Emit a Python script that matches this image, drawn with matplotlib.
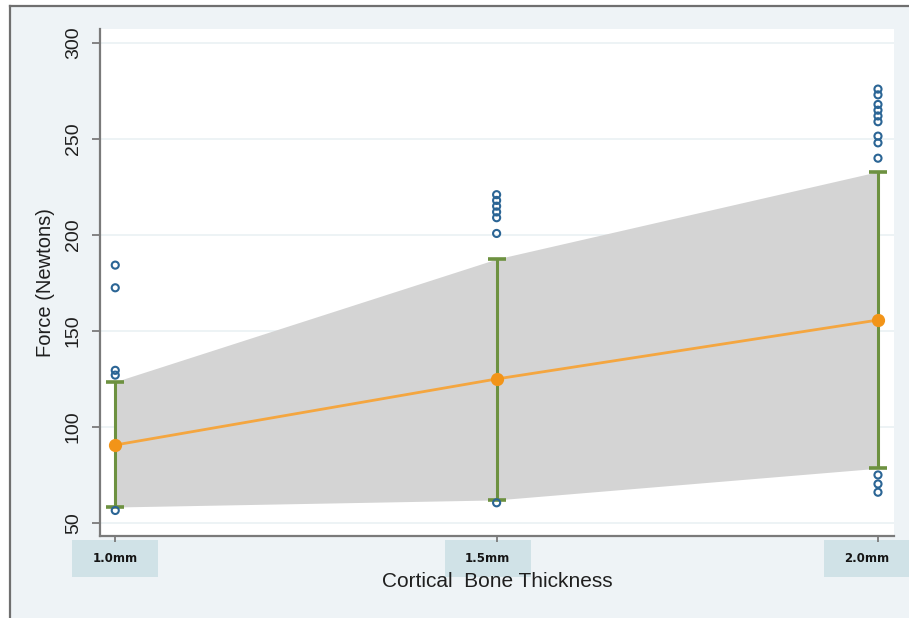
import matplotlib
matplotlib.use("Agg")
import matplotlib.pyplot as plt
from matplotlib.patches import Rectangle
from matplotlib.lines import Line2D
from matplotlib.transforms import blended_transform_factory, ScaledTranslation

# Cortical bone thickness groups (mm) and their labels
thickness = [1.0, 1.5, 2.0]
tick_labels = ["1.0mm", "1.5mm", "2.0mm"]

# Mean force and range limits (Newtons)
mean_force = [90.6, 125.0, 155.7]
upper_limit = [123.6, 187.5, 233.0]
lower_limit = [58.3, 62.0, 78.5]

# Outlying observations per group (Newtons)
outliers_10 = [184.3, 172.5, 129.5, 127.0, 56.5]
outliers_15 = [221.0, 218.0, 215.0, 212.0, 209.0, 200.8, 60.5]
outliers_20 = [276.0, 273.0, 268.0, 265.0, 262.0, 259.0, 251.5, 248.0, 240.0,
               75.0, 70.3, 66.0]

y_ticks = [50, 100, 150, 200, 250, 300]

plt.rcParams["font.family"] = ["Liberation Sans", "DejaVu Sans"]

BG = "#eef3f6"
TEXT = "#1f1f1f"
fig = plt.figure(figsize=(9.09, 6.18), dpi=100)
fig.patch.set_facecolor("white")

# light outer panel with a thin frame on its left and top
W, H = 909.0, 618.0
fig.patches.append(Rectangle((10 / W, 0), 1 - 10 / W, 1 - 6 / H,
                             transform=fig.transFigure, facecolor=BG,
                             edgecolor="none", zorder=-3))
fig.lines.append(Line2D([10 / W, 10 / W], [0, 1 - 6 / H], transform=fig.transFigure,
                        color="#6f6f6f", lw=1.6, zorder=-2))
fig.lines.append(Line2D([10 / W, 1], [1 - 6 / H, 1 - 6 / H], transform=fig.transFigure,
                        color="#6f6f6f", lw=1.6, zorder=-2))

ax = fig.add_axes([100 / W, 1 - 536 / H, 794 / W, 507 / H])
ax.set_facecolor("white")

# shaded band between the limits
ax.fill_between(thickness, lower_limit, upper_limit, color="#d4d4d4",
                linewidth=0, zorder=2)

# range bars
for x, m, lo, hi in zip(thickness, mean_force, lower_limit, upper_limit):
    ax.errorbar([x], [m], yerr=[[m - lo], [hi - m]], fmt="none",
                ecolor="#6d9140", elinewidth=2.2, capsize=6.5, capthick=2.6,
                zorder=3)

# mean line
ax.plot(thickness, mean_force, color="#f4a640", lw=2.0, zorder=4)
ax.plot(thickness, mean_force, "o", color="#f29418", ms=8.5, mec="#f29418",
        zorder=5)

# outliers
for x, vals in zip(thickness, [outliers_10, outliers_15, outliers_20]):
    ax.scatter([x] * len(vals), vals, s=26, facecolors="none",
               edgecolors="#2b6595", linewidths=1.5, zorder=6)

ax.set_xlim(0.980, 2.021)
ax.set_ylim(43.2, 307.3)

ax.set_yticks(y_ticks)
ax.set_yticklabels([str(v) for v in y_ticks])
ax.set_xticks(thickness)
ax.set_xticklabels([])

ax.grid(axis="y", color="#eaf1f4", lw=1.2, zorder=1)
ax.set_axisbelow(True)

for side in ["top", "right"]:
    ax.spines[side].set_visible(False)
for side in ["left", "bottom"]:
    ax.spines[side].set_color("#7a7a7a")
    ax.spines[side].set_linewidth(1.6)

ax.tick_params(axis="y", length=6, width=1.3, color="#7a7a7a", pad=7,
               labelsize=14, labelcolor=TEXT)
ax.tick_params(axis="x", length=4, width=1.3, color="#7a7a7a")
for lab in ax.get_yticklabels():
    lab.set_rotation(90)
    lab.set_va("center")

# thickness labels sitting in pale boxes just under the axis
label_tr = blended_transform_factory(ax.transData, ax.transAxes)
box_shift_px = [0, -9, -11]
for x, text, dx in zip(thickness, tick_labels, box_shift_px):
    shift = ScaledTranslation(dx / 100.0, -22 / 100.0, fig.dpi_scale_trans)
    ax.text(x, 0, text, transform=label_tr + shift, ha="center", va="center",
            fontsize=8.5, fontweight="bold", family=["DejaVu Sans"],
            color="#151515", clip_on=False, zorder=10)
    box_shift = ScaledTranslation(dx / 100.0, 0, fig.dpi_scale_trans)
    box_tr = blended_transform_factory(ax.transData, fig.transFigure) + box_shift
    box_w = 86 / 763.0
    fig.patches.append(Rectangle((x - box_w / 2, 1 - 577 / H), box_w, 37 / H,
                                 transform=box_tr, facecolor="#d0e2e7",
                                 edgecolor="none", zorder=-1))

ax.set_ylabel("Force (Newtons)", fontsize=14.5, color=TEXT)
ax.yaxis.set_label_coords(-0.069, 0.5)
ax.yaxis.label.set_va("center")
ax.set_xlabel("Cortical  Bone Thickness", fontsize=15, color=TEXT)
ax.xaxis.set_label_coords(0.5, -0.089)
ax.xaxis.label.set_va("center")

fig.savefig("out.png", dpi=100, facecolor=fig.get_facecolor())
